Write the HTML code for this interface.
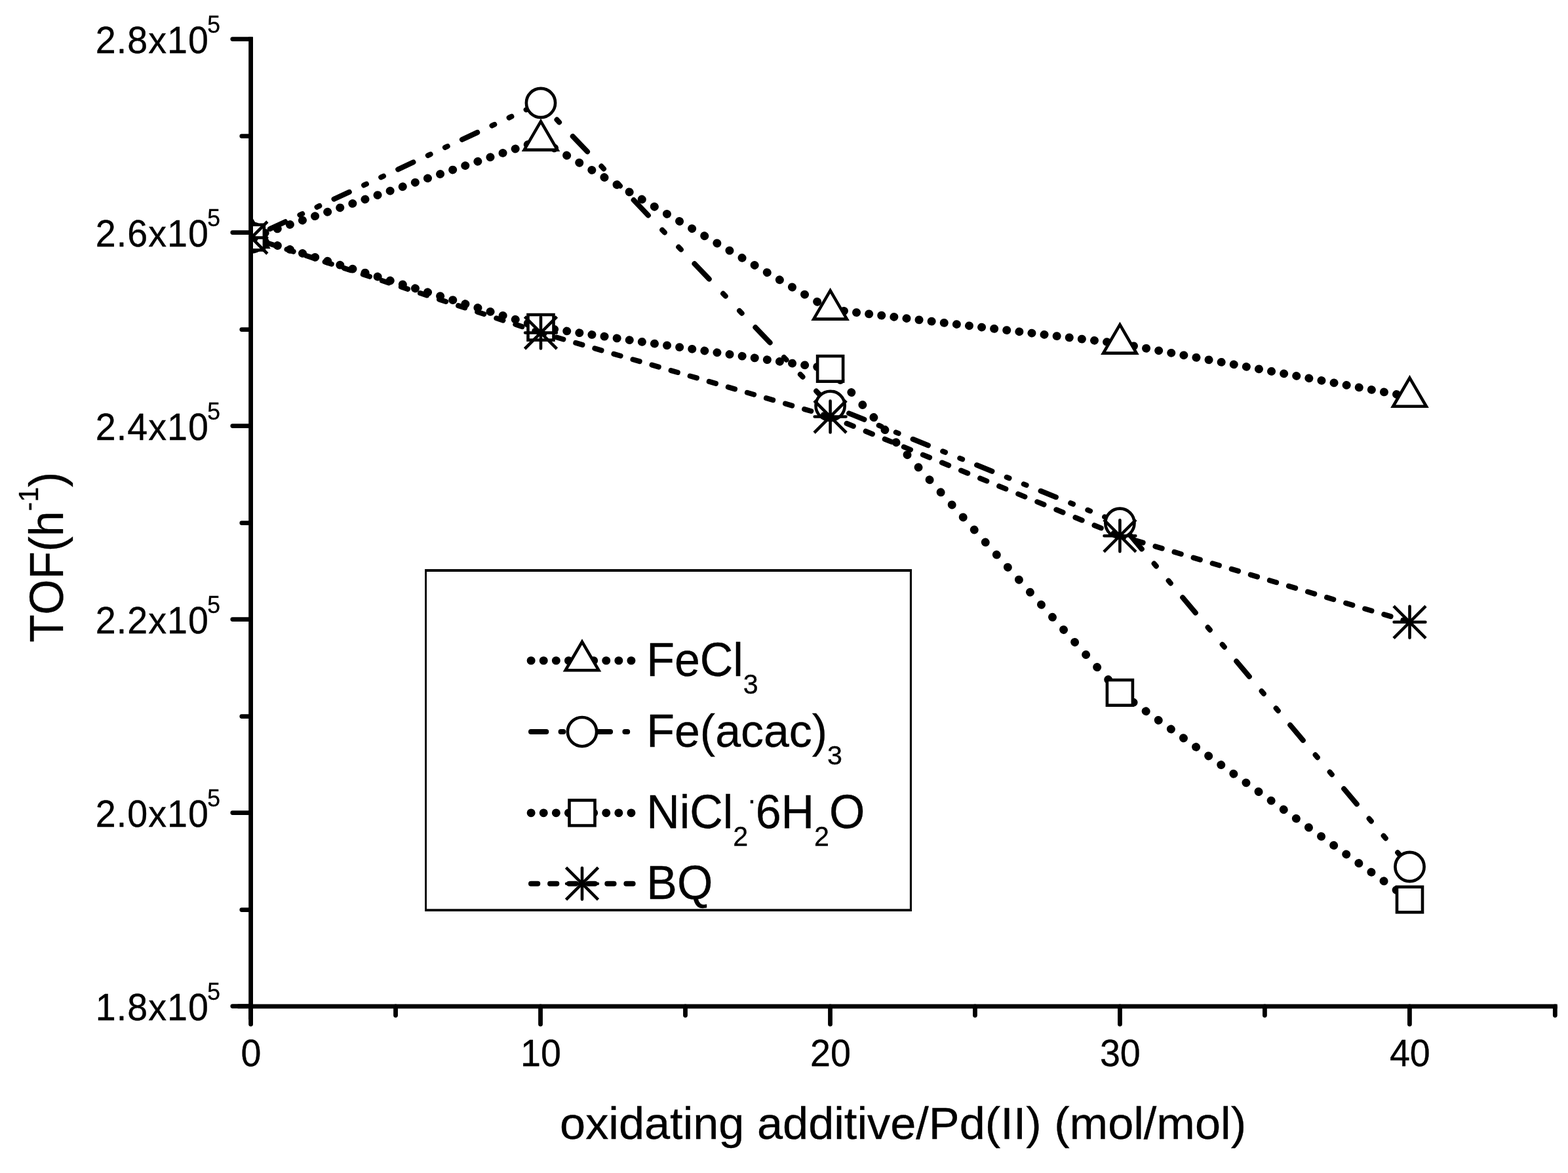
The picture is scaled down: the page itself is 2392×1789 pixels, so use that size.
<!DOCTYPE html>
<html lang="en"><head><meta charset="utf-8"><title>TOF vs oxidating additive/Pd(II)</title>
<style>html,body{margin:0;padding:0;background:#fff}svg{display:block}text{font-family:"Liberation Sans",sans-serif;fill:#000;stroke:#000;stroke-width:0.35px;font-kerning:none;white-space:pre}</style></head><body>
<svg width="2392" height="1789" viewBox="0 0 2392 1789">
<rect width="2392" height="1789" fill="#fff"/>
<defs><clipPath id="plot"><rect x="382.6" y="0" width="2009.4" height="1534.8"/></clipPath></defs>
<g clip-path="url(#plot)" stroke="#000">
<path fill="none" stroke-linecap="round" stroke-width="12.7" d="M384.9 361.8L385.2 361.7M404 355.38L404.3 355.28M423.1 348.96L423.4 348.86M442.2 342.54L442.5 342.44M461.3 336.12L461.6 336.02M480.4 329.7L480.7 329.6M499.5 323.28L499.8 323.18M518.6 316.87L518.9 316.77M537.7 310.45L538 310.35M556.8 304.03L557.1 303.93M575.9 297.61L576.2 297.51M595 291.19L595.3 291.09M614.1 284.77L614.4 284.67M633.2 278.35L633.5 278.25M652.3 271.94L652.6 271.84M671.4 265.52L671.7 265.42M690.5 259.1L690.8 259M709.6 252.68L709.9 252.58M728.7 246.26L729 246.16M747.8 239.84L748.1 239.74M766.9 233.42L767.2 233.32M786 227.01L786.3 226.91M805.1 220.59L805.4 220.49M824.2 214.17L824.5 214.07M826.3 214.66L826.6 214.83M845.4 225.82L845.7 225.99M864.5 236.98L864.8 237.15M883.6 248.14L883.9 248.31M902.7 259.3L903 259.47M921.8 270.45L922.1 270.63M940.9 281.61L941.2 281.79M960 292.77L960.3 292.95M979.1 303.93L979.4 304.11M998.2 315.09L998.5 315.27M1017.3 326.25L1017.6 326.42M1036.4 337.41L1036.7 337.58M1055.5 348.57L1055.8 348.74M1074.6 359.73L1074.9 359.9M1093.7 370.89L1094 371.06M1112.8 382.04L1113.1 382.22M1131.9 393.2L1132.2 393.38M1151 404.36L1151.3 404.54M1170.1 415.52L1170.4 415.7M1189.2 426.68L1189.5 426.86M1208.3 437.84L1208.6 438.01M1227.4 449L1227.7 449.17M1246.5 460.16L1246.8 460.33M1265.6 471.32L1265.9 471.49M1268.2 472.09L1268.5 472.12M1287.3 474.34L1287.6 474.37M1306.4 476.58L1306.7 476.62M1325.5 478.83L1325.8 478.87M1344.6 481.08L1344.9 481.12M1363.7 483.33L1364 483.36M1382.8 485.58L1383.1 485.61M1401.9 487.82L1402.2 487.86M1421 490.07L1421.3 490.11M1440.1 492.32L1440.4 492.36M1459.2 494.57L1459.5 494.6M1478.3 496.82L1478.6 496.85M1497.4 499.07L1497.7 499.1M1516.5 501.31L1516.8 501.35M1535.6 503.56L1535.9 503.6M1554.7 505.81L1555 505.84M1573.8 508.06L1574.1 508.09M1592.9 510.31L1593.2 510.34M1612 512.55L1612.3 512.59M1631.1 514.8L1631.4 514.84M1650.2 517.05L1650.5 517.09M1669.3 519.3L1669.6 519.33M1688.4 521.55L1688.7 521.58M1707.5 523.79L1707.8 523.83M1710.2 524.23L1710.5 524.29M1729.3 527.74L1729.6 527.79M1748.4 531.25L1748.7 531.3M1767.5 534.75L1767.8 534.81M1786.6 538.26L1786.9 538.32M1805.7 541.77L1806 541.83M1824.8 545.28L1825.1 545.33M1843.9 548.79L1844.2 548.84M1863 552.3L1863.3 552.35M1882.1 555.8L1882.4 555.86M1901.2 559.31L1901.5 559.37M1920.3 562.82L1920.6 562.87M1939.4 566.33L1939.7 566.38M1958.5 569.84L1958.8 569.89M1977.6 573.34L1977.9 573.4M1996.7 576.85L1997 576.91M2015.8 580.36L2016.1 580.41M2034.9 583.87L2035.2 583.92M2054 587.38L2054.3 587.43M2073.1 590.88L2073.4 590.94M2092.2 594.39L2092.5 594.45M2111.3 597.9L2111.6 597.96M2130.4 601.41L2130.7 601.46M2149.5 604.92L2149.8 604.97"/>
<g fill="#fff" stroke-width="4.6">
<path d="M383.4 333.6L408.7 377L358.1 377Z"/>
<path d="M825 185.2L850.3 228.6L799.7 228.6Z"/>
<path d="M1266.6 443.2L1291.9 486.6L1241.3 486.6Z"/>
<path d="M1708.4 495.2L1733.7 538.6L1683.1 538.6Z"/>
<path d="M2150.5 576.4L2175.8 619.8L2125.2 619.8Z"/>
</g>
<path fill="none" stroke-linecap="round" stroke-width="8" d="M385.8 361.18L389.6 359.42M411.8 349.1L435.1 338.26M457.4 327.9L461.2 326.13M483.5 315.76L487.3 314M509.5 303.68L532.8 292.84M555.1 282.48L558.9 280.71M581.2 270.34L585 268.58M607.2 258.26L630.5 247.42M652.8 237.06L656.6 235.29M678.9 224.92L682.7 223.16M704.9 212.83L728.2 202M750.5 191.64L754.3 189.87M776.6 179.5L780.4 177.73M802.6 167.41L825 157M825 157L828.16 160.3M849.48 182.6L853.11 186.4M873.77 208L896.05 231.3M917.37 253.6L921.01 257.4M942.33 279.7L945.97 283.5M966.62 305.1L988.9 328.4M1010.23 350.7L1013.86 354.5M1035.19 376.8L1038.82 380.6M1059.47 402.2L1081.76 425.5M1103.08 447.8L1106.71 451.6M1128.04 473.9L1131.67 477.7M1152.33 499.3L1174.61 522.6M1195.93 544.9L1199.57 548.7M1220.89 571L1224.52 574.8M1245.18 596.4L1266.6 618.8M1269.3 619.89L1273.1 621.43M1295.1 630.34L1318.4 639.78M1340.7 648.81L1344.5 650.34M1366.8 659.37L1370.6 660.91M1392.6 669.82L1415.9 679.26M1438.2 688.29L1442 689.83M1464.3 698.86L1468.1 700.39M1490.1 709.3L1513.4 718.74M1535.7 727.77L1539.5 729.31M1561.8 738.34L1565.6 739.88M1587.6 748.78L1610.9 758.22M1633.2 767.25L1637 768.79M1659.3 777.82L1663.1 779.36M1685.1 788.27L1708.4 797.7M1722.14 814L1741.79 837.3M1760.6 859.6L1763.8 863.4M1782.6 885.7L1785.81 889.5M1804.15 911.25L1823.79 934.55M1842.6 956.85L1845.8 960.65M1864.61 982.95L1867.81 986.75M1886.15 1008.5L1905.8 1031.8M1924.6 1054.1L1927.81 1057.9M1946.61 1080.2L1949.81 1084M1968.15 1105.75L1987.8 1129.05M2006.6 1151.35L2009.81 1155.15M2028.61 1177.45L2031.82 1181.25M2050.16 1203L2069.8 1226.3M2088.61 1248.6L2091.81 1252.4M2110.62 1274.7L2113.82 1278.5M2132.16 1300.25L2150.5 1322"/>
<g fill="#fff" stroke-width="4.6">
<circle cx="383.4" cy="362.3" r="22.1"/>
<circle cx="825" cy="157" r="22.1"/>
<circle cx="1266.6" cy="618.8" r="22.1"/>
<circle cx="1708.4" cy="797.7" r="22.1"/>
<circle cx="2150.5" cy="1322" r="22.1"/>
</g>
<path fill="none" stroke-linecap="round" stroke-width="12.7" d="M385 362.6L385.3 362.69M404.1 368.53L404.4 368.62M423.2 374.47L423.5 374.56M442.3 380.4L442.6 380.49M461.4 386.33L461.7 386.43M480.5 392.27L480.8 392.36M499.6 398.2L499.9 398.3M518.7 404.14L519 404.23M537.8 410.07L538.1 410.16M556.9 416L557.2 416.1M576 421.94L576.3 422.03M595.1 427.87L595.4 427.97M614.2 433.81L614.5 433.9M633.3 439.74L633.6 439.83M652.4 445.68L652.7 445.77M671.5 451.61L671.8 451.7M690.6 457.54L690.9 457.64M709.7 463.48L710 463.57M728.8 469.41L729.1 469.5M747.9 475.35L748.2 475.44M767 481.28L767.3 481.37M786.1 487.21L786.4 487.31M805.2 493.15L805.5 493.24M824.3 499.08L824.6 499.18M826.4 499.5L826.7 499.54M845.5 502.23L845.8 502.27M864.6 504.96L864.9 505M883.7 507.69L884 507.73M902.8 510.42L903.1 510.46M921.9 513.15L922.2 513.19M941 515.88L941.3 515.92M960.1 518.6L960.4 518.65M979.2 521.33L979.5 521.38M998.3 524.06L998.6 524.11M1017.4 526.79L1017.7 526.83M1036.5 529.52L1036.8 529.56M1055.6 532.25L1055.9 532.29M1074.7 534.98L1075 535.02M1093.8 537.71L1094.1 537.75M1112.9 540.44L1113.2 540.48M1132 543.17L1132.3 543.21M1151.1 545.9L1151.4 545.94M1170.2 548.63L1170.5 548.67M1189.3 551.35L1189.6 551.4M1208.4 554.08L1208.7 554.13M1227.5 556.81L1227.8 556.86M1246.6 559.54L1246.9 559.59M1265.7 562.27L1266 562.31M1281.67 579.25L1281.94 579.55M1298.71 598.3L1298.97 598.6M1315.74 617.35L1316.01 617.65M1332.78 636.4L1333.05 636.7M1349.82 655.45L1350.09 655.75M1366.85 674.5L1367.12 674.8M1383.89 693.55L1384.16 693.85M1400.93 712.6L1401.2 712.9M1417.97 731.65L1418.23 731.95M1435 750.7L1435.27 751M1452.04 769.75L1452.31 770.05M1469.08 788.8L1469.35 789.1M1486.11 807.85L1486.38 808.15M1503.15 826.9L1503.42 827.2M1520.19 845.95L1520.46 846.25M1537.22 865L1537.49 865.3M1554.26 884.05L1554.53 884.35M1571.3 903.1L1571.57 903.4M1588.34 922.15L1588.6 922.45M1605.37 941.2L1605.64 941.5M1622.41 960.25L1622.68 960.55M1639.45 979.3L1639.72 979.6M1656.48 998.35L1656.75 998.65M1673.52 1017.4L1673.79 1017.7M1690.56 1036.45L1690.83 1036.75M1707.6 1055.5L1707.86 1055.8M1709.8 1057.4L1710.1 1057.61M1728.9 1071.03L1729.2 1071.25M1748 1084.67L1748.3 1084.88M1767.1 1098.3L1767.4 1098.52M1786.2 1111.94L1786.5 1112.15M1805.3 1125.57L1805.6 1125.79M1824.4 1139.21L1824.7 1139.42M1843.5 1152.84L1843.8 1153.06M1862.6 1166.48L1862.9 1166.69M1881.7 1180.11L1882 1180.33M1900.8 1193.75L1901.1 1193.96M1919.9 1207.38L1920.2 1207.6M1939 1221.02L1939.3 1221.23M1958.1 1234.65L1958.4 1234.87M1977.2 1248.29L1977.5 1248.5M1996.3 1261.92L1996.6 1262.14M2015.4 1275.56L2015.7 1275.77M2034.5 1289.19L2034.8 1289.41M2053.6 1302.83L2053.9 1303.04M2072.7 1316.46L2073 1316.68M2091.8 1330.1L2092.1 1330.31M2110.9 1343.73L2111.2 1343.95M2130 1357.37L2130.3 1357.58M2149.1 1371L2149.4 1371.21"/>
<g fill="#fff" stroke-width="4.6">
<rect x="363.9" y="342.8" width="39" height="38.6"/>
<rect x="805.5" y="480" width="39" height="38.6"/>
<rect x="1247.1" y="543.1" width="39" height="38.6"/>
<rect x="1688.9" y="1037.1" width="39" height="38.6"/>
<rect x="2131" y="1352.7" width="39" height="38.6"/>
</g>
<path fill="none" stroke-linecap="round" stroke-width="8" d="M383.4 362.5L389.53 364.51M408.4 370.71L418.6 374.06M437.47 380.25L447.67 383.6M466.54 389.8L476.74 393.15M495.61 399.34L505.81 402.69M524.68 408.89L534.88 412.24M553.75 418.43L563.95 421.78M582.82 427.98L593.02 431.33M611.89 437.53L622.09 440.87M640.96 447.07L651.16 450.42M670.03 456.62L680.23 459.96M699.1 466.16L709.3 469.51M728.17 475.71L738.37 479.05M757.24 485.25L767.44 488.6M786.31 494.8L796.51 498.15M815.38 504.34L825 507.5M825 507.5L830.33 509.04M849.2 514.51L859.4 517.47M878.27 522.94L888.47 525.9M907.34 531.37L917.54 534.32M936.41 539.79L946.61 542.75M965.48 548.22L975.68 551.18M994.55 556.64L1004.75 559.6M1023.62 565.07L1033.82 568.03M1052.69 573.5L1062.89 576.45M1081.76 581.92L1091.96 584.88M1110.83 590.35L1121.03 593.31M1139.9 598.78L1150.1 601.73M1168.97 607.2L1179.17 610.16M1198.04 615.63L1208.24 618.58M1227.11 624.05L1237.31 627.01M1256.18 632.48L1266.38 635.44M1266.6 635.5L1272.73 638.02M1291.6 645.78L1301.8 649.98M1320.67 657.74L1330.87 661.93M1349.74 669.69L1359.94 673.89M1378.81 681.65L1389.01 685.84M1407.88 693.6L1418.08 697.8M1436.95 705.56L1447.15 709.76M1466.02 717.52L1476.22 721.71M1495.09 729.47L1505.29 733.67M1524.16 741.43L1534.36 745.62M1553.23 753.38L1563.43 757.58M1582.3 765.34L1592.5 769.53M1611.37 777.29L1621.57 781.49M1640.44 789.25L1650.64 793.44M1669.51 801.21L1679.71 805.4M1698.58 813.16L1708.4 817.2M1708.4 817.2L1714.53 819.02M1733.4 824.64L1743.6 827.68M1762.47 833.3L1772.67 836.33M1791.54 841.95L1801.74 844.98M1820.61 850.6L1830.81 853.64M1849.68 859.25L1859.88 862.29M1878.75 867.91L1888.95 870.94M1907.82 876.56L1918.02 879.6M1936.89 885.21L1947.09 888.25M1965.96 893.87L1976.16 896.9M1995.03 902.52L2005.23 905.56M2024.1 911.17L2034.3 914.21M2053.17 919.83L2063.37 922.86M2082.24 928.48L2092.44 931.52M2111.31 937.13L2121.51 940.17M2140.38 945.79L2150.5 948.8"/>
<g fill="#fff" stroke-width="4.6">
<path fill="none" stroke-linecap="round" d="M359.5 362.5H407.3M383.4 338.6V386.4"/><path fill="none" d="M358.9 338L407.9 387M358.9 387L407.9 338"/>
<path fill="none" stroke-linecap="round" d="M801.1 507.5H848.9M825 483.6V531.4"/><path fill="none" d="M800.5 483L849.5 532M800.5 532L849.5 483"/>
<path fill="none" stroke-linecap="round" d="M1242.7 635.5H1290.5M1266.6 611.6V659.4"/><path fill="none" d="M1242.1 611L1291.1 660M1242.1 660L1291.1 611"/>
<path fill="none" stroke-linecap="round" d="M1684.5 817.2H1732.3M1708.4 793.3V841.1"/><path fill="none" d="M1683.9 792.7L1732.9 841.7M1683.9 841.7L1732.9 792.7"/>
<path fill="none" stroke-linecap="round" d="M2126.6 948.8H2174.4M2150.5 924.9V972.7"/><path fill="none" d="M2126 924.3L2175 973.3M2126 973.3L2175 924.3"/>
</g>
</g>
<g fill="none" stroke="#000" stroke-width="6.8" stroke-linecap="round">
<path stroke-linecap="butt" d="M382.6 56.2V1554.8"/>
<path d="M382.6 1534.8V1562.1"/>
<path stroke-linecap="butt" d="M362.6 1534.8H2375.7"/>
<path d="M382.6 59.6H354.8M382.6 207.6H368.8M382.6 354.6H354.8M382.6 502.6H368.8M382.6 649.6H354.8M382.6 797.6H368.8M382.6 944.6H354.8M382.6 1092.6H368.8M382.6 1239.6H354.8M382.6 1387.6H368.8M382.6 1534.6H354.8M824.55 1534.8V1562.1M1266.5 1534.8V1562.1M1708.45 1534.8V1562.1M2150.4 1534.8V1562.1M603.55 1534.8V1548.5M1045.5 1534.8V1548.5M1487.45 1534.8V1548.5M1929.4 1534.8V1548.5M2372.3 1534.8V1548.5"/>
</g>
<text transform="translate(145.86 81.2) scale(1 1.02)" x="0" font-size="55.6" letter-spacing="1.05">2.8x10<tspan dx="-2.7" font-size="35.5" dy="-30.39">5</tspan></text>
<text transform="translate(145.86 376.2) scale(1 1.02)" x="0" font-size="55.6" letter-spacing="1.05">2.6x10<tspan dx="-2.7" font-size="35.5" dy="-30.39">5</tspan></text>
<text transform="translate(145.86 671.2) scale(1 1.02)" x="0" font-size="55.6" letter-spacing="1.05">2.4x10<tspan dx="-2.7" font-size="35.5" dy="-30.39">5</tspan></text>
<text transform="translate(145.86 966.2) scale(1 1.02)" x="0" font-size="55.6" letter-spacing="1.05">2.2x10<tspan dx="-2.7" font-size="35.5" dy="-30.39">5</tspan></text>
<text transform="translate(145.86 1261.2) scale(1 1.02)" x="0" font-size="55.6" letter-spacing="1.05">2.0x10<tspan dx="-2.7" font-size="35.5" dy="-30.39">5</tspan></text>
<text transform="translate(145.86 1556.2) scale(1 1.02)" x="0" font-size="55.6" letter-spacing="1.05">1.8x10<tspan dx="-2.7" font-size="35.5" dy="-30.39">5</tspan></text>
<text transform="translate(383 1626) scale(1 1.02)" x="-15.46" font-size="55.6">0</text>
<text transform="translate(824.95 1626) scale(1 1.02)" x="-30.92" font-size="55.6">10</text>
<text transform="translate(1266.9 1626) scale(1 1.02)" x="-30.92" font-size="55.6">20</text>
<text transform="translate(1708.85 1626) scale(1 1.02)" x="-30.92" font-size="55.6">30</text>
<text transform="translate(2150.8 1626) scale(1 1.02)" x="-30.92" font-size="55.6">40</text>
<text transform="translate(1377.6 1736.7) scale(1 0.98)" x="-523.55" font-size="70.3">oxidating additive/Pd(II) (mol/mol)</text>
<text transform="translate(96 979.7) rotate(-90) scale(1 1.03)" x="0" font-size="69.3">TOF(h<tspan font-size="41.2" dy="-36.89">-1</tspan><tspan dy="36.89">)</tspan></text>
<path fill="#000" fill-rule="evenodd" d="M648.1 868.1H1391V1389.9H648.1ZM651 871.9V1386.2H1387.9V871.9Z"/>
<g fill="none" stroke="#000" stroke-linecap="round">
<path stroke-width="12.7" d="M810 1007.5L810.3 1007.5M829.1 1007.5L829.4 1007.5M848.2 1007.5L848.5 1007.5M867.3 1007.5L867.6 1007.5M886.4 1007.5L886.7 1007.5M905.5 1007.5L905.8 1007.5M924.6 1007.5L924.9 1007.5M943.7 1007.5L944 1007.5M962.8 1007.5L963.1 1007.5"/>
<path stroke-width="8" d="M810 1116.1L833.3 1116.1M855.6 1116.1L859.4 1116.1M881.7 1116.1L885.5 1116.1M907.8 1116.1L931.1 1116.1M953.4 1116.1L957.2 1116.1"/>
<path stroke-width="12.7" d="M810 1239.8L810.3 1239.8M829.1 1239.8L829.4 1239.8M848.2 1239.8L848.5 1239.8M867.3 1239.8L867.6 1239.8M886.4 1239.8L886.7 1239.8M905.5 1239.8L905.8 1239.8M924.6 1239.8L924.9 1239.8M943.7 1239.8L944 1239.8M962.8 1239.8L963.1 1239.8"/>
<path stroke-width="8" d="M810 1347.7L820.3 1347.7M839.07 1347.7L849.37 1347.7M868.14 1347.7L878.44 1347.7M897.21 1347.7L907.51 1347.7M926.28 1347.7L936.58 1347.7M955.35 1347.7L965.65 1347.7"/>
</g>
<g fill="#fff" stroke="#000" stroke-width="4.6">
<path d="M888 978.8L913.3 1022.2L862.7 1022.2Z"/>
<circle cx="888" cy="1116.1" r="22.1"/>
<rect x="868.5" y="1220.5" width="39" height="38.6"/>
<path fill="none" stroke-linecap="round" d="M864.1 1347.7H911.9M888 1323.8V1371.6"/><path fill="none" d="M863.5 1323.2L912.5 1372.2M863.5 1372.2L912.5 1323.2"/>
</g>
<text transform="translate(986.3 1030.8) scale(1 1.03)" x="0" font-size="69.9">FeCl<tspan font-size="41.2" dy="26.5">3</tspan></text>
<text transform="translate(986.3 1139)" x="0" font-size="69.9">Fe(acac)<tspan font-size="41.2" dy="27.3">3</tspan></text>
<text transform="translate(986.3 1263) scale(1 1.04)" x="0" font-size="69.9">NiCl<tspan font-size="41.2" dy="26.25">2</tspan><tspan font-size="41.2" dy="-62.6">.</tspan><tspan dy="36.35">6H</tspan><tspan font-size="41.2" dy="26.25">2</tspan><tspan dy="-26.25">O</tspan></text>
<text transform="translate(986.3 1370.8) scale(1 1.04)" x="0" font-size="69.9">BQ</text>
</svg></body></html>
